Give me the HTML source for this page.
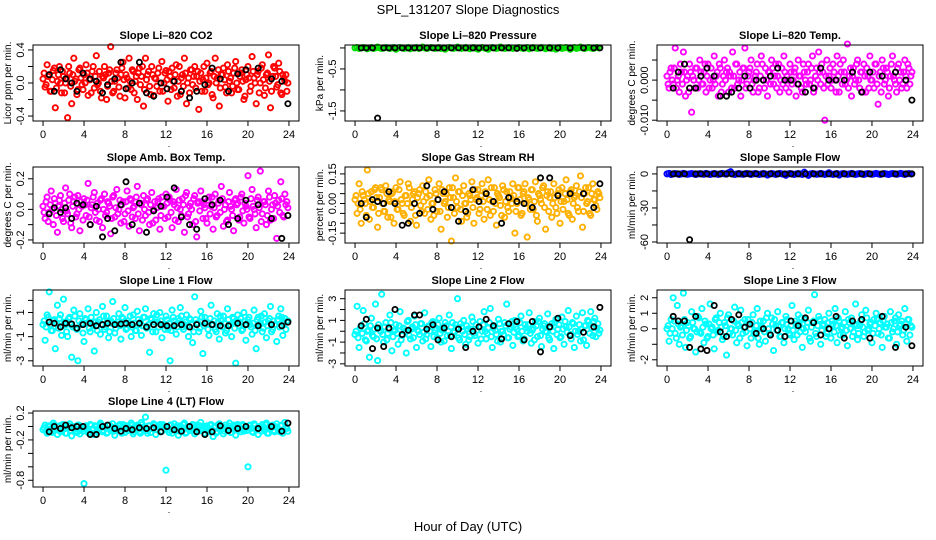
<!DOCTYPE html>
<html><head><meta charset="utf-8"><style>
html,body{margin:0;padding:0;background:#fff;}
svg{display:block;font-family:"Liberation Sans",Arial,sans-serif;}
</style></head><body>
<svg id="chart" width="936" height="540" viewBox="0 0 936 540" xmlns="http://www.w3.org/2000/svg">
<rect width="936" height="540" fill="#fff"/>
<text x="468" y="14" text-anchor="middle" font-size="13">SPL_131207  Slope Diagnostics</text>
<text x="468" y="531" text-anchor="middle" font-size="13">Hour of Day (UTC)</text>
</svg>
<script>
const hours=[0.0,0.2,0.4,0.6,0.8,1.0,1.2,1.4,1.6,1.8,2.0,2.2,2.4,2.6,2.8,3.0,3.2,3.4,3.6,3.8,
4.0,4.2,4.4,4.6,4.8,5.0,5.2,5.4,5.6,5.8,6.0,6.2,6.4,6.6,6.8,7.0,7.2,7.4,7.6,7.8,
8.0,8.2,8.4,8.6,8.8,9.0,9.2,9.4,9.6,9.8,10.0,10.2,10.4,10.6,10.8,11.0,11.2,11.4,11.6,11.8,
12.0,12.2,12.4,12.6,12.8,13.0,13.2,13.4,13.6,13.8,14.0,14.2,14.4,14.6,14.8,15.0,15.2,15.4,15.6,15.8,
16.0,16.2,16.4,16.6,16.8,17.0,17.2,17.4,17.6,17.8,18.0,18.2,18.4,18.6,18.8,19.0,19.2,19.4,19.6,19.8,
20.0,20.2,20.4,20.6,20.8,21.0,21.2,21.4,21.6,21.8,22.0,22.2,22.4,22.6,22.8,23.0,23.2,23.4,23.6,23.8];
const hours2=[0.1,0.3,0.5,0.7,0.9,1.1,1.3,1.5,1.7,1.9,2.1,2.3,2.5,2.7,2.9,3.1,3.3,3.5,3.7,3.9,
4.1,4.3,4.5,4.7,4.9,5.1,5.3,5.5,5.7,5.9,6.1,6.3,6.5,6.7,6.9,7.1,7.3,7.5,7.7,7.9,
8.1,8.3,8.5,8.7,8.9,9.1,9.3,9.5,9.7,9.9,10.1,10.3,10.5,10.7,10.9,11.1,11.3,11.5,11.7,11.9,
12.1,12.3,12.5,12.7,12.9,13.1,13.3,13.5,13.7,13.9,14.1,14.3,14.5,14.7,14.9,15.1,15.3,15.5,15.7,15.9,
16.1,16.3,16.5,16.7,16.9,17.1,17.3,17.5,17.7,17.9,18.1,18.3,18.5,18.7,18.9,19.1,19.3,19.5,19.7,19.9,
20.1,20.3,20.5,20.7,20.9,21.1,21.3,21.5,21.7,21.9,22.1,22.3,22.5,22.7,22.9,23.1,23.3,23.5,23.7,23.9];
const blackHours=[0.6,1.1,1.7,2.2,2.8,3.3,3.9,4.6,5.2,5.8,6.3,7.0,7.6,8.1,8.7,9.4,10.1,10.8,11.5,12.1,12.8,13.5,14.3,15.0,15.8,16.5,17.3,18.1,19.0,19.8,21.0,22.3,23.3,23.9];
const xTicks=[0,4,8,12,16,20,24];

const co2Vals=[0.05,-0.05,0.22,0.1,-0.1,0.15,-0.3,0.02,0.2,-0.12,0.08,0.0,-0.42,0.12,-0.25,0.3,0.05,-0.08,0.18,-0.02,
0.1,0.22,-0.15,0.04,0.14,-0.06,0.33,0.0,-0.1,0.08,0.2,-0.2,0.12,0.44,-0.12,0.02,0.16,-0.05,0.1,0.25,
-0.18,0.06,0.3,-0.08,0.14,0.02,-0.2,0.18,0.08,-0.28,0.3,0.1,-0.04,0.2,-0.15,0.05,0.12,-0.1,0.26,0.0,
0.15,-0.22,0.08,0.18,-0.06,0.22,0.02,-0.14,0.1,0.3,-0.25,0.06,0.16,-0.02,0.2,0.08,-0.32,0.12,0.04,-0.1,
0.24,0.0,0.14,-0.18,0.3,0.06,-0.28,0.1,0.18,-0.05,0.22,0.02,-0.12,0.12,0.26,-0.08,0.08,0.16,-0.2,0.04,
0.2,-0.1,0.32,0.06,-0.25,0.14,0.0,0.22,-0.15,0.1,0.34,-0.3,0.08,0.18,-0.05,0.24,-0.12,0.1,0.02,-0.1];
const co2Vals2=[0.12,-0.02,0.08,-0.1,0.04,0.18,-0.06,0.1,0.0,0.14,-0.12,0.06,0.2,-0.04,0.1,0.02,-0.14,0.16,0.06,-0.08,
0.0,0.12,0.04,-0.12,0.2,0.08,-0.02,0.14,-0.18,0.06,0.1,-0.04,0.16,0.02,-0.1,0.12,0.06,-0.16,0.18,0.04,
0.1,-0.06,0.02,0.16,-0.12,0.08,0.12,-0.02,0.2,-0.08,0.04,0.14,-0.14,0.1,0.06,-0.04,0.18,0.0,-0.1,0.12,
0.04,0.14,-0.08,0.02,0.1,-0.16,0.2,0.06,-0.04,0.12,0.0,-0.12,0.16,0.08,-0.06,0.14,0.02,-0.1,0.2,0.06,
-0.02,0.12,-0.14,0.08,0.0,0.16,-0.06,0.1,0.04,-0.12,0.14,0.06,-0.04,0.18,0.0,-0.08,0.12,0.02,-0.16,0.1,
0.06,-0.04,0.14,0.0,0.1,-0.12,0.18,0.04,-0.06,0.12,0.02,-0.1,0.2,0.08,-0.02,0.14,-0.14,0.06,0.1,0.0];
const co2Black=[0.1,-0.1,0.16,0.05,0.0,-0.1,0.12,0.05,0.02,-0.12,-0.02,0.05,0.25,-0.07,0.0,0.25,-0.12,-0.16,0.0,-0.07,0.02,-0.1,-0.18,-0.1,-0.02,0.18,0.05,-0.1,0.11,0.16,0.18,0.05,0.02,-0.25];
const co2Ticks=[-0.4,-0.2,0,0.2,0.4];
const co2TickLabels=["-0.4","","0.0","","0.4"];

const presVals=[0.0,0.01,-0.01,0.0,0.01,0.0,-0.02,0.0,0.01,-0.01,0.0,0.02,0.0,-0.01,0.0,0.01,0.0,-0.01,0.0,0.01,
-0.03,0.0,0.01,0.0,-0.01,0.0,0.01,-0.02,0.0,0.0,0.01,-0.01,0.0,0.02,0.0,-0.01,0.0,0.01,0.0,-0.01,
0.0,0.01,-0.01,0.0,-0.03,0.0,0.01,0.0,-0.01,0.0,0.02,0.0,-0.01,0.0,0.01,0.0,-0.02,0.0,0.01,-0.01,
-0.03,0.0,0.01,0.0,-0.01,-0.03,0.0,0.01,0.0,-0.01,0.0,0.02,0.0,-0.01,0.0,0.01,0.0,-0.01,0.0,0.0,
0.01,0.0,-0.01,0.0,0.01,-0.02,0.0,0.01,0.0,-0.01,0.0,0.01,0.0,-0.02,0.0,0.01,-0.01,0.0,-0.03,0.0,
0.01,-0.01,0.0,0.01,0.0,-0.03,0.0,0.01,-0.01,0.0,0.02,0.0,-0.01,0.0,0.01,0.0,-0.01,0.0,0.01,0.0];
const presBlack=[0.0,0.0,0.0,-1.67,0.0,0.0,0.0,0.0,0.0,0.0,0.0,0.0,0.0,0.0,0.0,0.0,0.0,0.0,0.0,0.0,0.0,0.0,0.0,0.0,-0.01,0.0,0.0,0.0,0.0,0.0,0.0,0.0,0.0,0.0];
const presTicks=[-1.5,-1.0,-0.5,0];
const presTickLabels=["-1.5","","-0.5",""];

const tempVals=[0.001,-0.002,0.003,-0.001,0.008,0.0,-0.003,0.002,0.007,-0.004,0.001,0.004,-0.008,0.0,0.003,-0.002,0.005,-0.001,0.002,-0.003,
0.004,0.0,-0.002,0.006,0.001,-0.004,0.003,-0.001,0.005,0.002,-0.003,0.001,0.007,-0.002,0.004,0.0,-0.004,0.003,0.008,-0.001,
0.002,0.005,-0.003,0.001,0.004,-0.002,0.006,0.0,0.003,-0.004,0.002,0.005,-0.001,0.004,0.001,-0.003,0.003,0.006,-0.002,0.0,
0.004,-0.001,0.002,-0.004,0.005,0.001,-0.003,0.002,-0.001,0.004,0.0,0.006,-0.002,0.003,0.007,-0.001,0.002,-0.010,0.005,0.001,
-0.002,0.004,0.0,0.006,-0.003,0.002,0.005,-0.001,0.009,0.001,-0.004,0.003,0.0,0.005,-0.002,0.002,0.004,-0.003,0.001,0.006,
0.0,-0.002,0.004,-0.006,0.002,0.005,-0.001,0.003,-0.004,0.001,0.006,0.0,-0.003,0.004,0.002,-0.001,0.005,-0.002,0.003,0.001];
const tempVals2=[-0.001,0.002,0.0,0.003,-0.002,0.001,0.004,-0.001,0.002,0.0,-0.003,0.002,0.001,-0.002,0.003,0.0,0.002,-0.001,0.004,0.001,
-0.002,0.003,0.0,-0.001,0.002,0.004,-0.003,0.001,0.0,0.003,0.002,-0.002,0.001,0.004,-0.001,0.002,0.0,0.003,-0.002,0.001,
0.003,-0.001,0.0,0.002,-0.003,0.001,0.004,-0.002,0.0,0.002,-0.001,0.003,0.001,-0.002,0.004,0.0,-0.001,0.002,0.001,-0.003,
0.002,0.0,0.003,-0.001,0.001,-0.002,0.004,0.0,0.002,-0.001,0.003,-0.003,0.001,0.0,0.002,0.004,-0.002,0.001,-0.001,0.003,
0.0,0.002,-0.003,0.001,0.004,-0.001,0.002,0.0,-0.002,0.003,0.001,-0.001,0.004,0.0,0.002,-0.003,0.001,0.003,-0.002,0.0,
0.002,0.004,-0.001,0.001,-0.003,0.003,0.0,0.002,-0.002,0.004,0.001,-0.001,0.003,0.0,-0.002,0.002,0.001,0.004,-0.001,0.002];
const tempBlack=[-0.002,0.002,0.004,-0.002,-0.002,0.001,0.003,0.001,-0.004,-0.004,-0.003,-0.002,0.001,-0.002,0.0,0.0,0.001,0.003,0.0,0.0,-0.001,-0.003,-0.002,0.003,0.0,0.0,0.0,0.002,-0.003,0.002,0.001,0.002,0.0,-0.005];
const tempTicks=[-0.01,-0.005,0,0.005];
const tempTickLabels=["-0.010","","0.000",""];

const ambVals=[0.02,-0.06,0.08,-0.02,0.12,-0.1,0.04,-0.15,0.06,0.0,-0.08,0.14,-0.03,0.1,-0.12,0.05,-0.05,0.09,-0.14,0.02,
0.07,-0.04,0.17,-0.1,0.03,0.11,-0.07,0.0,0.06,-0.12,0.1,-0.02,0.04,-0.16,0.08,-0.05,0.13,0.0,-0.09,0.05,
-0.03,0.12,-0.11,0.06,0.01,-0.06,0.15,-0.14,0.03,0.09,-0.04,0.07,-0.1,0.11,0.0,-0.07,0.05,-0.13,0.08,0.02,
0.1,-0.05,0.06,-0.12,0.03,0.13,-0.08,0.0,0.07,-0.15,0.11,-0.03,0.04,-0.1,0.09,-0.18,0.05,0.12,-0.06,0.01,
-0.09,0.08,0.02,-0.13,0.1,-0.04,0.06,0.15,-0.11,0.03,-0.07,0.11,0.0,-0.14,0.07,0.04,-0.05,0.1,-0.09,0.02,
0.22,-0.06,0.13,0.0,-0.12,0.08,0.25,-0.03,0.05,-0.1,0.12,-0.07,0.03,0.09,-0.19,0.06,0.18,-0.04,0.1,0.05];
const ambVals2=[-0.02,0.05,-0.08,0.03,0.0,0.07,-0.04,0.02,0.09,-0.06,0.04,-0.01,0.06,-0.09,0.02,0.08,-0.03,0.0,0.05,-0.07,
0.03,0.06,-0.05,0.01,0.08,-0.02,0.04,-0.08,0.07,0.0,-0.04,0.05,0.02,-0.06,0.09,0.01,-0.03,0.06,0.03,-0.08,
0.05,-0.01,0.07,-0.05,0.02,0.08,-0.03,0.04,-0.07,0.0,0.06,-0.02,0.03,-0.09,0.05,0.01,0.07,-0.04,0.02,-0.06,
0.04,0.08,-0.02,0.05,-0.07,0.01,0.06,-0.04,0.03,0.09,-0.05,0.02,0.0,0.07,-0.08,0.04,-0.01,0.05,0.03,-0.06,
0.06,-0.03,0.08,0.01,-0.05,0.04,-0.02,0.07,0.0,-0.08,0.05,0.02,-0.04,0.06,0.03,-0.07,0.08,-0.01,0.04,0.0,
-0.05,0.07,0.02,-0.03,0.06,0.01,-0.08,0.05,0.03,-0.04,0.08,0.0,-0.06,0.04,0.02,-0.02,0.07,-0.05,0.03,0.01];
const ambBlack=[-0.03,0.01,-0.02,0.01,-0.06,0.04,0.03,-0.1,0.02,-0.18,-0.06,-0.14,0.03,0.18,-0.1,0.04,-0.15,-0.01,0.02,0.08,0.14,-0.05,-0.1,-0.13,0.07,0.03,0.06,-0.1,-0.06,0.06,0.03,-0.06,-0.19,-0.04];
const ambTicks=[-0.2,-0.1,0,0.1,0.2];
const ambTickLabels=["-0.2","","0.0","","0.2"];

const rhVals=[0.02,-0.05,0.1,-0.1,0.04,0.0,0.17,-0.08,0.06,-0.02,0.08,-0.12,0.03,0.07,-0.04,0.09,-0.07,0.01,0.05,-0.1,
0.08,-0.03,0.11,0.0,-0.06,0.04,0.1,-0.09,0.02,0.06,-0.11,0.05,-0.01,0.09,-0.05,0.03,0.12,-0.08,0.0,0.07,
-0.04,0.1,-0.13,0.05,0.01,-0.07,0.08,-0.19,0.03,0.13,-0.02,0.06,-0.09,0.09,0.0,-0.05,0.04,0.11,-0.1,0.02,
0.07,-0.03,0.1,-0.08,0.05,0.12,-0.06,0.01,0.08,-0.11,0.04,-0.01,0.09,-0.07,0.06,-0.04,0.03,0.1,-0.15,0.0,
0.08,-0.06,0.05,0.1,-0.17,0.02,0.07,-0.03,0.11,-0.09,0.04,0.0,0.09,-0.13,0.06,0.03,-0.07,0.1,-0.02,0.05,
-0.1,0.08,0.01,0.12,-0.05,0.06,-0.08,0.03,0.09,-0.04,0.14,-0.12,0.05,0.0,0.08,-0.06,0.1,0.02,-0.03,0.05];
const rhVals2=[0.04,0.0,-0.03,0.06,0.02,-0.06,0.05,0.01,-0.02,0.07,0.03,-0.05,0.08,0.0,-0.04,0.05,0.02,-0.07,0.06,0.01,
-0.03,0.07,0.02,-0.05,0.04,0.0,0.08,-0.02,0.05,-0.06,0.03,0.07,-0.04,0.01,0.06,-0.03,0.04,0.0,-0.06,0.05,
0.02,-0.04,0.07,0.0,0.05,-0.02,0.03,0.08,-0.05,0.01,0.06,-0.03,0.04,0.0,-0.07,0.05,0.02,-0.02,0.07,0.03,
-0.05,0.04,0.01,0.06,-0.03,0.02,0.08,-0.04,0.0,0.05,0.03,-0.06,0.07,0.01,-0.02,0.06,0.0,0.04,-0.04,0.08,
0.02,-0.05,0.06,0.0,0.03,-0.03,0.07,0.01,-0.06,0.05,0.02,0.08,-0.02,0.04,-0.04,0.06,0.0,0.03,-0.05,0.07,
0.01,-0.03,0.05,0.02,-0.06,0.07,0.0,0.04,-0.02,0.06,0.03,-0.04,0.08,0.01,-0.05,0.05,0.02,-0.01,0.06,0.03];
const rhBlack=[0.0,-0.07,0.02,0.01,0.0,0.06,0.0,-0.11,-0.1,0.0,-0.05,0.09,-0.03,0.02,0.06,-0.02,-0.09,-0.04,0.07,0.01,0.05,0.01,-0.1,0.03,0.01,0.0,-0.02,0.13,0.13,0.04,0.05,0.05,-0.02,0.1];
const rhTicks=[-0.15,-0.1,-0.05,0,0.05,0.1,0.15];
const rhTickLabels=["-0.15","","","0.00","","","0.15"];

const flowVals=[0.0,0.5,-0.5,0.0,0.3,0.0,-0.4,0.0,0.5,0.0,-0.3,0.0,0.4,0.0,-0.5,0.0,0.2,0.0,-0.3,0.5,
0.0,-0.5,0.0,0.3,0.0,-0.4,0.0,0.5,0.0,-0.2,1.0,2.0,0.0,-0.5,0.0,0.4,0.0,-0.3,0.0,0.5,
0.0,-0.4,0.0,0.3,0.0,-0.5,0.0,0.4,0.0,-1.0,0.0,0.3,0.0,-0.4,0.0,0.5,0.0,-0.3,-1.2,0.0,
0.4,0.0,-0.5,0.0,0.3,0.0,-0.4,1.5,0.0,-1.3,0.0,0.4,0.0,-0.3,0.0,0.5,0.0,-0.4,0.0,1.0,
0.0,-0.5,0.0,0.3,-1.0,0.0,0.4,0.0,-0.3,0.0,0.5,0.0,-0.4,0.0,0.3,0.0,-0.5,0.0,0.4,0.0,
-0.3,0.0,0.5,0.0,-0.4,0.0,0.3,0.0,-0.5,0.0,0.4,0.0,-0.3,0.0,0.5,0.0,-0.4,0.0,0.3,0.0];
const flowBlack=[0.0,0.0,0.0,-58.0,0.0,0.0,0.0,0.0,0.0,0.0,0.0,0.0,0.0,0.0,0.0,0.0,0.0,0.0,0.0,0.0,0.0,0.0,0.0,0.0,0.0,0.0,0.0,0.0,0.0,0.0,0.0,0.0,0.0,0.0];
const flowTicks=[-60,-45,-30,-15,0];
const flowTickLabels=["-60","","-30","","0"];

const line1Vals=[0.0,-1.3,0.8,2.7,-0.5,0.3,-2.0,1.6,0.5,-0.9,2.1,0.0,-1.0,0.6,-2.7,1.2,-0.3,-3.0,0.9,0.1,
-1.4,0.4,1.3,-0.6,0.0,-2.2,1.0,0.2,-0.8,1.5,-0.4,0.7,-1.1,0.3,1.9,-0.7,0.0,0.9,-1.2,0.5,
1.4,-0.3,0.1,-1.0,0.8,-0.5,1.1,0.0,-0.9,0.6,1.3,-0.2,-2.3,0.4,0.9,-0.6,0.2,1.0,-1.1,0.0,
0.7,-0.4,-3.0,1.2,0.3,-0.8,0.5,1.4,-0.2,0.0,0.8,-1.0,0.4,-1.5,2.3,0.1,-0.6,1.1,-2.4,0.6,
0.2,-0.9,1.6,0.0,-0.4,0.9,-1.2,0.3,0.7,-0.7,1.3,0.0,-1.0,0.5,-3.2,0.8,0.2,-0.5,1.0,-1.3,
0.4,0.0,-0.8,1.2,-2.0,0.6,0.1,-0.6,0.9,-1.1,0.3,1.5,-0.4,0.0,-1.4,0.7,1.3,-0.9,0.5,0.2];
const line1Vals2=[0.3,-0.2,0.6,0.0,-0.5,0.4,0.1,-0.3,0.8,-0.1,0.2,-0.6,0.5,0.0,-0.2,0.7,-0.4,0.3,0.0,-0.7,
0.5,0.1,-0.3,0.6,-0.1,0.2,-0.5,0.4,0.0,0.7,-0.2,0.3,-0.6,0.1,0.5,-0.3,0.2,-0.1,0.6,0.0,
-0.4,0.3,0.7,-0.2,0.1,-0.5,0.4,0.2,-0.1,0.6,-0.3,0.0,0.5,-0.6,0.2,0.8,-0.2,0.3,0.0,-0.4,
0.4,0.1,-0.5,0.6,0.0,-0.2,0.3,0.7,-0.4,0.2,-0.1,0.5,0.0,-0.6,0.4,0.1,-0.3,0.6,-0.1,0.2,
-0.4,0.5,0.0,0.3,-0.6,0.2,0.7,-0.2,0.1,-0.5,0.4,0.0,0.6,-0.3,0.2,-0.1,0.5,-0.4,0.3,0.0,
0.6,-0.2,0.1,-0.5,0.4,0.0,0.7,-0.3,0.2,-0.1,0.5,-0.6,0.3,0.0,0.4,-0.2,0.6,0.1,-0.4,0.3];
const line1Black=[0.2,0.1,-0.2,0.1,0.05,-0.3,0.0,0.1,-0.1,0.0,0.1,0.0,0.05,0.1,0.0,0.1,-0.2,0.0,0.0,-0.1,-0.1,0.0,-0.2,0.0,0.1,0.0,-0.1,-0.1,0.1,0.0,-0.1,0.0,-0.1,0.2];
const line1Ticks=[-3,-2,-1,0,1,2];
const line1TickLabels=["-3","","-1","","1",""];

const line2Vals=[-0.3,2.3,-1.5,0.5,1.9,-0.8,0.0,-2.4,1.2,-0.5,2.5,-2.7,0.3,3.4,-1.0,0.8,-0.2,1.5,-1.8,0.0,
0.6,-1.2,1.8,-0.4,0.2,-2.0,1.0,-0.7,0.4,1.4,-1.5,0.0,0.7,-0.9,1.7,-0.3,0.5,-1.4,0.9,0.1,
-0.6,1.2,-1.0,0.3,0.8,-0.4,1.5,-1.6,0.0,0.6,3.0,-0.8,0.4,1.0,-1.2,0.2,-0.5,1.3,-0.2,0.6,
-1.1,0.9,0.0,1.8,-0.7,0.3,2.1,-1.5,0.5,-0.3,1.1,-1.0,0.0,0.8,2.5,-0.6,0.4,-1.3,1.0,0.2,
-0.4,1.4,-0.9,0.6,0.0,1.7,-1.1,0.3,0.9,-0.5,1.2,-1.4,0.5,0.0,1.6,-0.8,0.7,-1.6,1.1,0.2,
-0.6,1.3,-1.2,0.4,1.9,-0.3,0.8,-1.5,1.4,0.0,-0.9,1.7,0.5,-1.3,0.9,1.8,-0.4,1.2,0.3,-0.2];
const line2Vals2=[0.0,-0.6,0.3,-0.2,0.7,-0.9,0.1,0.5,-0.4,0.2,-0.7,0.6,0.0,-0.3,0.4,-0.8,0.2,0.8,-0.5,0.1,
-0.2,0.5,-0.8,0.3,0.0,0.9,-0.4,0.2,-0.6,0.6,0.1,-0.3,0.7,-0.1,-0.7,0.4,0.0,0.8,-0.5,0.3,
0.6,-0.2,0.1,-0.9,0.5,0.0,-0.4,0.8,-0.1,0.3,-0.6,0.7,0.0,-0.3,0.5,-0.8,0.2,0.9,-0.4,0.1,
0.4,-0.7,0.6,0.0,-0.2,0.8,-0.5,0.3,0.1,-0.9,0.7,0.0,-0.3,0.5,-0.6,0.2,0.9,-0.1,0.4,-0.5,
0.8,0.0,-0.7,0.3,0.6,-0.2,0.1,-0.8,0.5,0.9,-0.4,0.2,0.7,-0.1,-0.6,0.4,0.0,0.8,-0.3,0.6,
-0.5,0.2,0.9,-0.1,0.4,-0.7,0.7,0.0,-0.3,0.6,0.2,-0.8,0.5,1.0,-0.2,0.3,0.9,-0.5,0.7,0.1];
const line2Black=[0.5,1.1,-1.6,0.3,-1.4,0.3,2.0,-0.3,0.1,1.5,1.5,0.2,0.6,-0.8,0.3,-0.5,0.2,-1.5,0.0,0.4,1.1,0.5,-0.7,0.7,0.9,-0.8,0.9,-1.9,0.4,1.2,-0.4,-0.1,0.4,2.2];
const line2Ticks=[-3,-2,-1,0,1,2,3];
const line2TickLabels=["-3","","-1","","1","","3"];

const line3Vals=[0.0,-0.8,0.6,2.0,-0.3,1.5,-1.0,0.2,2.3,-1.2,0.4,-0.6,1.1,0.0,-1.5,0.8,-0.2,1.3,-0.9,0.3,
-0.5,1.6,0.1,-1.3,0.7,-0.1,1.0,-0.7,0.4,-1.7,0.9,0.0,-0.4,1.4,-0.9,0.2,1.2,-0.3,0.6,-1.1,
0.3,-0.6,0.9,-0.2,1.3,-1.0,0.0,0.5,-0.8,1.0,-0.3,0.7,-1.4,0.2,1.1,-0.5,0.4,-0.9,0.8,0.0,
-0.4,1.5,-0.7,0.3,0.9,-0.2,-1.2,0.6,0.1,1.2,-0.8,0.4,2.2,-0.5,0.8,-1.0,0.2,0.6,-0.3,1.0,
-0.6,0.3,1.3,-0.9,0.5,0.0,-0.4,1.1,-1.1,0.4,0.7,-0.2,1.6,-0.7,0.2,0.9,-0.5,1.2,-0.1,0.3,
-0.9,0.6,1.0,-0.3,0.4,-1.2,0.8,0.1,-0.6,1.1,-0.2,0.5,-1.0,0.9,0.3,-0.4,1.3,-0.8,0.6,0.2];
const line3Vals2=[0.2,-0.3,0.0,0.5,-0.6,0.3,0.1,-0.4,0.6,-0.1,0.2,-0.5,0.4,0.0,-0.2,0.7,-0.3,0.1,0.5,-0.6,
0.3,0.0,-0.4,0.6,-0.2,0.4,0.1,-0.5,0.2,0.7,-0.3,0.0,0.5,-0.1,0.3,-0.6,0.4,0.1,-0.2,0.6,
0.0,0.4,-0.3,0.2,-0.6,0.5,0.1,-0.2,0.7,0.0,-0.4,0.3,0.6,-0.1,0.2,-0.5,0.4,0.0,0.6,-0.3,
0.2,-0.1,0.5,-0.4,0.3,0.7,0.0,-0.2,0.4,-0.6,0.1,0.5,-0.3,0.2,0.6,-0.1,0.3,-0.5,0.4,0.0,
0.5,-0.2,0.2,0.7,-0.4,0.1,0.4,-0.1,0.6,0.0,-0.5,0.3,0.2,-0.3,0.5,0.1,-0.2,0.7,0.0,0.4,
-0.3,0.2,0.6,0.0,-0.4,0.5,0.1,0.3,-0.6,0.4,0.0,0.7,-0.2,0.2,0.5,-0.1,0.3,0.6,-0.4,0.1];
const line3Black=[0.8,0.5,0.5,-1.2,0.8,-1.3,-1.4,1.5,-0.2,-0.5,0.6,0.9,0.1,0.3,-0.3,0.0,-0.4,-0.1,-0.5,0.5,0.2,0.7,0.4,-0.4,0.0,0.8,-0.6,0.5,0.6,-0.6,0.8,-1.2,0.1,-1.1];
const line3Ticks=[-2,-1,0,1,2];
const line3TickLabels=["-2","","0","1","2"];

const line4Vals=[-0.05,0.02,-0.1,0.0,-0.08,0.05,-0.03,-0.12,0.01,-0.06,0.03,-0.1,-0.02,0.04,-0.14,0.0,-0.07,0.02,-0.11,-0.04,
-0.85,0.01,-0.09,0.03,-0.05,-0.12,0.0,-0.03,0.05,-0.08,-0.01,-0.1,0.02,-0.06,0.04,-0.13,-0.02,0.01,-0.07,0.03,
-0.09,0.0,-0.04,0.05,-0.11,-0.02,0.02,-0.08,0.06,-0.05,0.14,-0.1,0.01,-0.03,0.04,-0.12,-0.01,0.03,-0.07,0.0,
-0.65,-0.05,0.02,-0.1,0.04,-0.02,-0.13,0.01,-0.06,0.05,-0.09,0.0,-0.04,0.03,-0.11,0.02,-0.07,0.06,-0.03,-0.1,
0.01,-0.05,0.03,-0.15,0.0,-0.08,0.04,-0.02,-0.11,0.02,-0.06,0.05,-0.09,0.0,-0.13,0.03,-0.04,0.01,-0.07,-0.03,
-0.6,0.02,-0.08,0.04,-0.05,-0.12,0.0,0.03,-0.06,0.05,-0.1,-0.02,0.02,-0.08,0.04,-0.05,0.01,-0.1,0.06,-0.03];
const line4Vals2=[-0.02,-0.07,0.01,-0.04,-0.09,0.02,-0.05,0.0,-0.08,0.03,-0.03,-0.1,0.01,-0.06,0.0,-0.04,-0.09,0.02,-0.02,-0.07,
0.0,-0.05,-0.1,0.02,-0.03,0.01,-0.08,-0.04,0.03,-0.06,-0.01,-0.09,0.02,-0.03,-0.07,0.0,-0.05,0.03,-0.1,-0.02,
0.01,-0.06,-0.03,0.02,-0.08,0.0,-0.04,-0.1,0.03,-0.02,-0.06,0.01,-0.09,-0.03,0.02,-0.05,0.0,-0.08,0.03,-0.04,
-0.01,-0.09,0.02,-0.05,-0.02,0.01,-0.07,-0.03,0.03,-0.1,0.0,-0.06,-0.02,0.02,-0.08,-0.04,0.01,-0.06,0.0,-0.03,
-0.08,0.02,-0.05,-0.01,-0.1,0.03,-0.04,0.0,-0.07,-0.02,0.01,-0.09,-0.03,0.02,-0.05,0.0,-0.08,0.03,-0.04,-0.06,
0.01,-0.03,-0.09,0.02,-0.05,0.0,-0.07,-0.02,0.03,-0.1,-0.04,0.01,-0.06,0.0,-0.03,-0.08,0.02,-0.05,-0.01,-0.07];
const line4Black=[-0.08,0.0,-0.03,0.02,-0.02,0.0,0.0,-0.12,-0.12,0.0,0.02,-0.03,-0.07,-0.03,-0.05,-0.02,-0.03,-0.02,-0.08,0.0,-0.05,-0.07,0.0,-0.08,-0.12,-0.08,0.01,-0.06,-0.03,0.0,-0.03,0.0,-0.07,0.05];
const line4Ticks=[-0.8,-0.6,-0.4,-0.2,0,0.2];
const line4TickLabels=["-0.8","","","-0.2","","0.2"];

const panels=[
 {id:"co2",title:"Slope Li\u2013820 CO2",ylab:"Licor ppm per min.",ylim:[-0.46,0.46],color:"#ff0000",vals:co2Vals,vals2:co2Vals2,blk:co2Black,ticks:co2Ticks,labels:co2TickLabels},
 {id:"pressure",title:"Slope Li\u2013820 Pressure",ylab:"kPa per min.",ylim:[-1.74,0.07],color:"#00e000",vals:presVals,vals2:[],blk:presBlack,ticks:presTicks,labels:presTickLabels},
 {id:"temp",title:"Slope Li\u2013820 Temp.",ylab:"degrees C per min.",ylim:[-0.0102,0.00875],color:"#ff00ff",vals:tempVals,vals2:tempVals2,blk:tempBlack,ticks:tempTicks,labels:tempTickLabels},
 {id:"amb-box-temp",title:"Slope Amb. Box Temp.",ylab:"degrees C per min.",ylim:[-0.22,0.277],color:"#ff00ff",vals:ambVals,vals2:ambVals2,blk:ambBlack,ticks:ambTicks,labels:ambTickLabels},
 {id:"gas-stream-rh",title:"Slope Gas Stream RH",ylab:"percent per min.",ylim:[-0.2,0.185],color:"#ffb000",vals:rhVals,vals2:rhVals2,blk:rhBlack,ticks:rhTicks,labels:rhTickLabels},
 {id:"sample-flow",title:"Slope Sample Flow",ylab:"ml/min per min.",ylim:[-60.9,6.1],color:"#0000ff",vals:flowVals,vals2:[],blk:flowBlack,ticks:flowTicks,labels:flowTickLabels},
 {id:"line1-flow",title:"Slope Line 1 Flow",ylab:"ml/min per min.",ylim:[-3.43,2.86],color:"#00ffff",vals:line1Vals,vals2:line1Vals2,blk:line1Black,ticks:line1Ticks,labels:line1TickLabels},
 {id:"line2-flow",title:"Slope Line 2 Flow",ylab:"ml/min per min.",ylim:[-3.2,3.8],color:"#00ffff",vals:line2Vals,vals2:line2Vals2,blk:line2Black,ticks:line2Ticks,labels:line2TickLabels},
 {id:"line3-flow",title:"Slope Line 3 Flow",ylab:"ml/min per min.",ylim:[-2.4,2.5],color:"#00ffff",vals:line3Vals,vals2:line3Vals2,blk:line3Black,ticks:line3Ticks,labels:line3TickLabels},
 {id:"line4-flow",title:"Slope Line 4 (LT) Flow",ylab:"ml/min per min.",ylim:[-0.9,0.23],color:"#00ffff",vals:line4Vals,vals2:line4Vals2,blk:line4Black,ticks:line4Ticks,labels:line4TickLabels}
];

const NS="http://www.w3.org/2000/svg";
const svg=document.getElementById('chart');
const colLeft=[33,345,657], rowTop=[45,167,290,411], PW=266, PH=76;
const XMIN=-0.98, XMAX=24.98;
function mk(tag,attrs,parent){const e=document.createElementNS(NS,tag);for(const k in attrs)e.setAttribute(k,attrs[k]);parent.appendChild(e);return e;}

panels.forEach((p,i)=>{
  const L=colLeft[i%3], T=rowTop[Math.floor(i/3)];
  const xs=h=>L+(h-XMIN)/(XMAX-XMIN)*PW;
  const ys=v=>T+PH-(v-p.ylim[0])/(p.ylim[1]-p.ylim[0])*PH;
  const g=mk('g',{},svg);
  
  
  const t=mk('text',{x:L+PW/2,y:T-6,'text-anchor':'middle','font-size':'11','font-weight':'bold'},g);
  t.textContent=p.title;
  
  
  const pts=mk('g',{fill:'none',stroke:p.color,'stroke-width':'1.9'},g);
  
  
  const n=Math.min(hours.length,p.vals.length);
  for(let k=0;k<n;k++){
    const c=mk('circle',{cx:xs(hours[k]).toFixed(1),cy:ys(p.vals[k]).toFixed(1),r:'2.6'},pts);
    
    
  }
  const n2=Math.min(hours2.length,p.vals2.length);
  for(let k=0;k<n2;k++){
    const c=mk('circle',{cx:xs(hours2[k]).toFixed(1),cy:ys(p.vals2[k]).toFixed(1),r:'2.6'},pts);
    
    
  }
  const bp=mk('g',{fill:'none',stroke:'#000','stroke-width':'1.8'},g);
  
  
  const nb=Math.min(blackHours.length,p.blk.length);
  for(let k=0;k<nb;k++){
    const c=mk('circle',{cx:xs(blackHours[k]).toFixed(1),cy:ys(p.blk[k]).toFixed(1),r:'2.6'},bp);
    
    
  }
  const box=mk('rect',{x:L,y:T,width:PW,height:PH,fill:'none',stroke:'#000','stroke-width':'1'},g);
  
  
  const xa=mk('g',{},g);
  
  
  xTicks.forEach(h=>{
    const x=xs(h);
    mk('line',{x1:x,x2:x,y1:T+PH,y2:T+PH+5,stroke:'#000'},xa);
    const tx=mk('text',{x:x,y:T+PH+17,'text-anchor':'middle','font-size':'11'},xa);
    tx.textContent=String(h);
    
    
  });
  const dot=mk('text',{x:xs(12)+3,y:T+PH+26,'text-anchor':'middle','font-size':'9'},xa);
  dot.textContent='.';
  const ya=mk('g',{},g);
  
  
  p.ticks.forEach((v,k)=>{
    const y=ys(v);
    mk('line',{x1:L-5,x2:L,y1:y,y2:y,stroke:'#000'},ya);
    if(p.labels[k]){
      const tx=mk('text',{x:0,y:0,'text-anchor':'middle','font-size':'11',transform:`translate(${L-9},${y}) rotate(-90)`},ya);
      tx.textContent=p.labels[k];
      
      
    }
  });
  const yl=mk('text',{x:0,y:0,'text-anchor':'middle','font-size':'10',transform:`translate(${L-22},${T+PH/2}) rotate(-90)`},g);
  yl.textContent=p.ylab;
  
  
});
</script>
</body></html>
